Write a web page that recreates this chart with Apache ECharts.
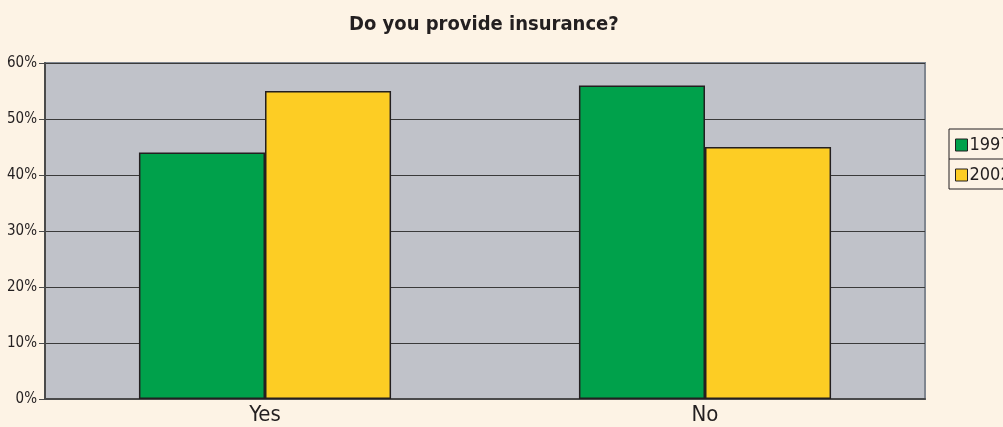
<!DOCTYPE html>
<html><head><meta charset="utf-8">
<script src="https://cdn.jsdelivr.net/npm/echarts@6/dist/echarts.min.js"></script>
<style>html,body{margin:0;padding:0;background:#FDF3E5;}#c{width:1003px;height:427px;}</style>
</head><body><div id="c"></div>
<script>
const categories = ['Yes', 'No'];
const s1997 = [44, 56];
const s2002 = [55, 45];
const yTicks = [0, 10, 20, 30, 40, 50, 60];
const FONT = '"Liberation Sans Narrow","DejaVu Sans Condensed",sans-serif';
const chart = echarts.init(document.getElementById('c'));
chart.setOption({
  backgroundColor: '#FDF3E5',
  title: {
    text: 'Do you provide insurance?', left: 344, top: 10,
    textStyle: { fontFamily: FONT, fontSize: 20, fontWeight: 'bold', color: '#231F20' }
  },
  legend: {
    orient: 'vertical', left: 949, top: 129, itemGap: 12,
    padding: [7, 40, 5, 6],
    borderColor: '#231F20', borderWidth: 1,
    itemWidth: 12, itemHeight: 12, icon: 'rect',
    itemStyle: { borderColor: '#231F20', borderWidth: 1 },
    textStyle: { fontFamily: FONT, fontSize: 18, color: '#231F20', padding: [0, 0, 0, -3] },
    data: ['1997', '2002']
  },
  graphic: [{
    type: 'line', shape: { x1: 949, y1: 159, x2: 1003, y2: 159 },
    style: { stroke: '#231F20', lineWidth: 1 }, z: 100
  }],
  grid: { left: 45, right: 78, top: 63, bottom: 28, show: true, backgroundColor: '#C0C2C9', borderColor: '#80868F', borderWidth: 2 },
  xAxis: {
    type: 'category', data: categories,
    axisLine: { lineStyle: { color: '#4A4A4A', width: 2 } },
    axisTick: { show: false },
    axisLabel: { fontFamily: FONT, fontSize: 22, color: '#231F20', margin: 5 }
  },
  yAxis: {
    type: 'value', min: 0, max: 60, interval: 10,
    axisLine: { show: true, lineStyle: { color: '#4A4A4A', width: 2 } },
    axisTick: { show: true, length: 6, lineStyle: { color: '#4A4A4A' } },
    splitLine: { lineStyle: { color: '#3A3A3A', width: 1 } },
    axisLabel: {
      fontFamily: FONT, fontSize: 15, color: '#231F20', margin: 8,
      formatter: v => yTicks.includes(v) ? v + '%' : ''
    }
  },
  series: [
    { name: '1997', type: 'bar', data: s1997, barGap: '0%', barCategoryGap: '42.7%',
      itemStyle: { color: '#00A14B', borderColor: '#231F20', borderWidth: 1.5 } },
    { name: '2002', type: 'bar', data: s2002,
      itemStyle: { color: '#FDCD24', borderColor: '#231F20', borderWidth: 1.5 } }
  ]
});
</script></body></html>
